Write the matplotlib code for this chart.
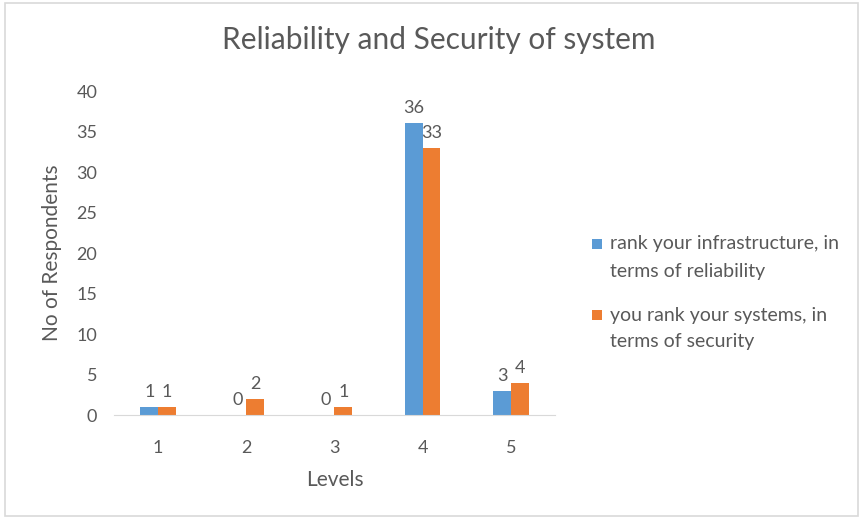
import matplotlib.pyplot as plt
import numpy as np
from matplotlib.patches import Rectangle

levels = ["1", "2", "3", "4", "5"]
reliability = [1, 0, 0, 36, 3]
security = [1, 2, 1, 33, 4]
series_names = [
    "rank your infrastructure, in\nterms of reliability",
    "you rank your systems, in\nterms of security",
]
colors = ["#5b9bd5", "#ed7d31"]

plt.rcParams["font.family"] = ["Lato", "DejaVu Sans"]
gray = "#595959"

W, H = 861, 518
fig = plt.figure(figsize=(W / 100, H / 100), dpi=100)
fig.patches.append(Rectangle((0.006, 0.004), 0.99, 0.99, transform=fig.transFigure,
                             fill=False, edgecolor="#d9d9d9", linewidth=1.2))
ax = fig.add_axes([0.1324, 0.1988, 0.5122, 0.6255])

x = np.arange(len(levels))
w = 0.2
b1 = ax.bar(x - w / 2, reliability, w, color=colors[0], label=series_names[0])
b2 = ax.bar(x + w / 2, security, w, color=colors[1], label=series_names[1])

for bars in (b1, b2):
    ax.bar_label(bars, padding=5, fontsize=13, color=gray)

ax.set_xlim(-0.5, 4.5)
ax.set_ylim(0, 40)
ax.set_yticks(range(0, 41, 5))
ax.set_xticks(x)
ax.set_xticklabels(levels)
ax.tick_params(axis="both", length=0, labelsize=13, colors=gray)
ax.tick_params(axis="x", pad=18)
ax.tick_params(axis="y", pad=12)
for s in ["top", "right", "left"]:
    ax.spines[s].set_visible(False)
ax.spines["bottom"].set_color("#d9d9d9")

ax.set_xlabel("Levels", fontsize=15, color=gray, labelpad=10)
ax.set_ylabel("No of Respondents", fontsize=15, color=gray, labelpad=10)
fig.suptitle("Reliability and Security of system", x=0.51, y=0.95, fontsize=21.5, color=gray)

# legend drawn by hand so the square sits on the first text line, like Excel
for name, col, ytop in zip(series_names, colors, [244, 315]):
    fig.patches.append(Rectangle((592 / W, 1 - (ytop + 5) / H), 10 / W, 10 / H,
                                 transform=fig.transFigure, facecolor=col, edgecolor="none"))
    for k, line in enumerate(name.split("\n")):
        fig.text(610 / W, 1 - (ytop + 27 * k) / H, line, fontsize=14, color=gray, va="center")

fig.savefig("out.png", dpi=100)
